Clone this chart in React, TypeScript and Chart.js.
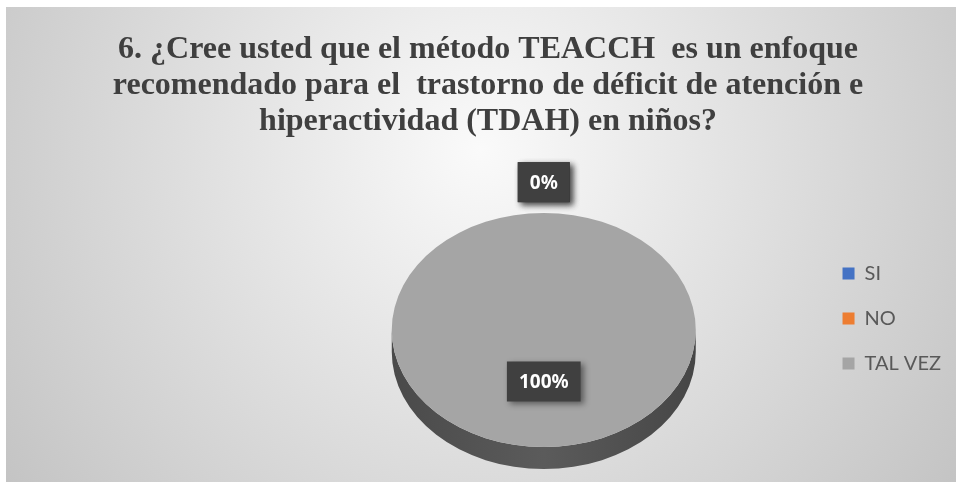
import { useEffect, useRef } from 'react';
import { Chart, registerables, layouts } from 'chart.js';

Chart.register(...registerables);

const categories = ['SI', 'NO', 'TAL VEZ'];
const values = [0, 0, 100];
const percentLabels = ['0%', '0%', '100%'];
const sliceColors = ['#4472C4', '#ED7D31', '#A5A5A5'];
const titleLines = [
  '6. ¿Cree usted que el método TEACCH  es un enfoque',
  'recomendado para el  trastorno de déficit de atención e',
  'hiperactividad (TDAH) en niños?',
];

const TILT = 0.77;
const DEPTH = 22;
const SHIFT = 21;
const SPACER = 245;

const bgPlugin = {
  id: 'bg',
  beforeDraw(chart: any) {
    const { ctx, width, height } = chart;
    const cx = width * 0.5;
    const cy = height * 0.3;
    const g = ctx.createRadialGradient(cx, cy, 0, cx, cy, width * 0.62);
    g.addColorStop(0, '#fafafa');
    g.addColorStop(1, '#c3c3c3');
    ctx.save();
    ctx.fillStyle = g;
    ctx.fillRect(0, 0, width, height);
    ctx.restore();
  },
};

const spacerPlugin = {
  id: 'spacer',
  beforeInit(chart: any) {
    const box: any = {
      position: 'left',
      weight: 100,
      fullSize: false,
      options: {},
      width: 0,
      height: 0,
      left: 0,
      top: 0,
      right: 0,
      bottom: 0,
      update(_mw: number, mh: number) {
        this.width = SPACER;
        this.height = mh;
      },
      isHorizontal() {
        return false;
      },
      getPadding() {
        return { left: 0, top: 0, right: 0, bottom: 0 };
      },
      draw() {},
    };
    layouts.addBox(chart, box);
  },
};

function labelBox(ctx: CanvasRenderingContext2D, text: string, x: number, y: number) {
  ctx.save();
  ctx.font = 'bold 19px "Noto Sans"';
  const tw = ctx.measureText(text).width;
  const w = tw + 24;
  const h = 40;
  ctx.shadowColor = 'rgba(0,0,0,0.45)';
  ctx.shadowBlur = 6;
  ctx.shadowOffsetX = 3;
  ctx.shadowOffsetY = 3;
  ctx.fillStyle = '#404040';
  ctx.fillRect(x - w / 2, y - h / 2, w, h);
  ctx.shadowColor = 'transparent';
  ctx.fillStyle = '#ffffff';
  ctx.textAlign = 'center';
  ctx.textBaseline = 'middle';
  ctx.fillText(text, x, y + 1);
  ctx.restore();
}

const tiltPlugin = {
  id: 'tilt',
  beforeDatasetsDraw(chart: any) {
    const meta = chart.getDatasetMeta(0);
    const arc = meta.data[0];
    const { x, y, outerRadius } = arc.getProps(['x', 'y', 'outerRadius'], true);
    const ctx = chart.ctx;
    const cy = y + SHIFT;
    const ry = outerRadius * TILT;
    ctx.save();
    const g = ctx.createLinearGradient(x - outerRadius, 0, x + outerRadius, 0);
    g.addColorStop(0, '#4a4a4a');
    g.addColorStop(0.5, '#5b5b5b');
    g.addColorStop(1, '#464646');
    ctx.fillStyle = g;
    ctx.beginPath();
    ctx.ellipse(x, cy + DEPTH, outerRadius, ry, 0, 0, Math.PI);
    ctx.lineTo(x - outerRadius, cy);
    ctx.ellipse(x, cy, outerRadius, ry, 0, Math.PI, 0, true);
    ctx.closePath();
    ctx.fill();
    ctx.restore();
    ctx.save();
    ctx.translate(0, cy);
    ctx.scale(1, TILT);
    ctx.translate(0, -y);
  },
  afterDatasetsDraw(chart: any) {
    const ctx = chart.ctx;
    ctx.restore();
    const meta = chart.getDatasetMeta(0);
    meta.data.forEach((el: any, i: number) => {
      const { x, y, startAngle, endAngle, outerRadius } = el.getProps(
        ['x', 'y', 'startAngle', 'endAngle', 'outerRadius'],
        true
      );
      const mid = (startAngle + endAngle) / 2;
      const cy = y + SHIFT;
      const d = values[i] === 0 ? outerRadius + 40 : outerRadius * 0.44;
      const px = x + Math.cos(mid) * d;
      const py = cy + Math.sin(mid) * d * TILT;
      labelBox(ctx, percentLabels[i], px, py);
    });
  },
};

export default function App() {
  const ref = useRef<HTMLCanvasElement>(null);
  useEffect(() => {
    if (!ref.current) return;
    const chart = new Chart(ref.current, {
      type: 'pie',
      data: {
        labels: categories,
        datasets: [
          {
            data: values,
            backgroundColor: sliceColors,
            borderWidth: 0,
          },
        ],
      },
      options: {
        responsive: false,
        animation: false,
        layout: { padding: { left: 19, right: 5, top: 0, bottom: 21 } },
        plugins: {
          title: {
            display: true,
            text: titleLines,
            color: '#3f3f3f',
            font: {
              family: "'Liberation Serif', 'Times New Roman', Tinos, 'DejaVu Serif', serif",
              size: 32,
              weight: 'bold',
              lineHeight: 1.125,
            },
            padding: { top: 25, bottom: 17 },
          },
          legend: {
            position: 'right',
            title: {
              display: true,
              text: '',
              font: { size: 10, lineHeight: 1 },
              padding: { top: 0, bottom: 159 },
            },
            labels: {
              boxWidth: 12,
              boxHeight: 12,
              padding: 25,
              color: '#595959',
              font: { family: 'Lato', size: 20, lineHeight: 1 },
            },
          },
          tooltip: { enabled: false },
        },
      },
      plugins: [bgPlugin, spacerPlugin, tiltPlugin],
    } as any);
    return () => chart.destroy();
  }, []);
  return (
    <div style={{ position: 'absolute', left: 6, top: 7, width: 950, height: 475 }}>
      <canvas ref={ref} width={950} height={475} style={{ display: 'block' }} />
    </div>
  );
}
